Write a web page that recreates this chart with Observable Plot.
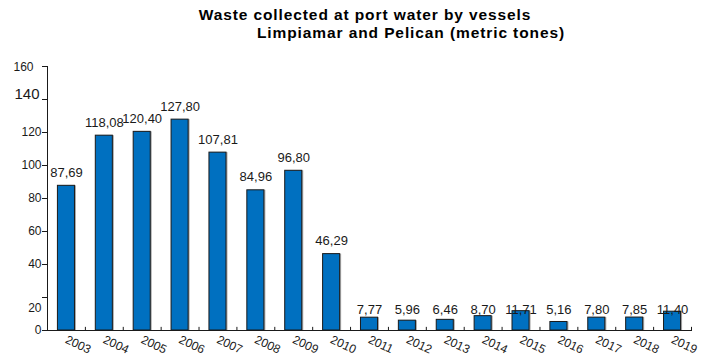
<!DOCTYPE html>
<html>
<head>
<meta charset="utf-8">
<script src="https://cdn.jsdelivr.net/npm/d3@7"></script>
<script src="https://cdn.jsdelivr.net/npm/@observablehq/plot@0.6"></script>
<style>
  html, body { margin: 0; padding: 0; background: #fff; }
  #wrap { position: relative; width: 704px; height: 361px; font-family: "Liberation Sans", Arial, sans-serif; }
  .title { position: absolute; height: 18px; line-height: 18px; font-size: 15.5px; letter-spacing: 0.9px; font-weight: bold; color: #000; white-space: nowrap; transform: translateX(-50%); }
  #chart { position: absolute; left: 0; top: 52px; }
</style>
</head>
<body>
<div id="wrap">
  <div class="title" style="left:365px; top:6px;">Waste collected at port water by vessels</div>
  <div class="title" style="left:411px; top:24px;">Limpiamar and Pelican (metric tones)</div>
  <div id="chart"></div>
</div>
<script>
// Yearly waste collected (metric tones)
const years = ["2003", "2004", "2005", "2006", "2007", "2008", "2009", "2010", "2011",
               "2012", "2013", "2014", "2015", "2016", "2017", "2018", "2019"];
const tonnes = [87.69, 118.08, 120.40, 127.80, 107.81, 84.96, 96.80, 46.29, 7.77,
                5.96, 6.46, 8.70, 11.71, 5.16, 7.80, 7.85, 11.40];
const yTicks = [0, 20, 40, 60, 80, 100, 120, 140, 160];

const data = years.map((year, i) => ({year, value: tonnes[i]}));
const fmt = v => v.toFixed(2).replace(".", ",");

const W = 704, H = 309;
const mL = 47, mR = 13, mT = 14, mB = 31;
const step = (W - mL - mR) / years.length; // paddingInner + 2*paddingOuter = 1 band
const blue = "#0070C0";
const ink = "#1a1a1a";

const plot = Plot.plot({
  width: W,
  height: H,
  marginLeft: mL,
  marginRight: mR,
  marginTop: mT,
  marginBottom: mB,
  style: {fontFamily: "'Liberation Sans', Arial, sans-serif", background: "#fff", color: ink, overflow: "visible"},
  x: {domain: years, range: [mL, W - mR], paddingInner: 0.55, paddingOuter: 0.275, round: false, axis: null},
  y: {domain: [0, 160], axis: null},
  marks: [
    // soft shadow on the right edge of each bar
    Plot.barY(data, {x: "year", y: "value", fill: "#a8a8a8", dx: 1.5}),
    Plot.barY(data, {x: "year", y: "value", fill: blue, stroke: ink, strokeWidth: 1}),
    // axis lines
    Plot.frame({anchor: "left", stroke: ink}),
    Plot.frame({anchor: "bottom", stroke: ink}),
    // y ticks and labels
    Plot.axisY(yTicks, {
      label: null, tickSize: 5, tickPadding: 1, fontSize: 12, stroke: ink,
      tickFormat: d => (d === 20 || d === 140 || d === 160) ? "" : String(d)
    }),
    Plot.text([20], {y: d => d, text: d => String(d), frameAnchor: "left", textAnchor: "end", dx: -6, dy: 11, fontSize: 12, fill: ink}),
    Plot.text([140], {y: d => d, text: d => String(d), frameAnchor: "left", textAnchor: "end", dx: -8, dy: -5, fontSize: 15, fill: ink}),
    Plot.text([160], {y: d => d, text: d => String(d), frameAnchor: "left", textAnchor: "end", dx: -14, dy: 1, fontSize: 12, fill: ink}),
    // x ticks between bars, pointing up
    Plot.ruleX(years, {x: d => d, y1: 0, y2: 1.9, dx: step / 2, stroke: ink}),
    // rotated year labels
    Plot.text(years, {x: d => d, text: d => d, frameAnchor: "bottom", dx: -2, dy: 12, rotate: 25, textAnchor: "start", fontSize: 12, fill: ink}),
    // value labels
    Plot.text(data, {filter: d => d.value >= 20, x: "year", y: "value", text: d => fmt(d.value), dy: -13, fontSize: 13, fill: ink}),
    Plot.text(data, {filter: d => d.value < 20, x: "year", y: () => 12.7, text: d => fmt(d.value), fontSize: 13, fill: ink})
  ]
});

document.getElementById("chart").appendChild(plot);
</script>
</body>
</html>
